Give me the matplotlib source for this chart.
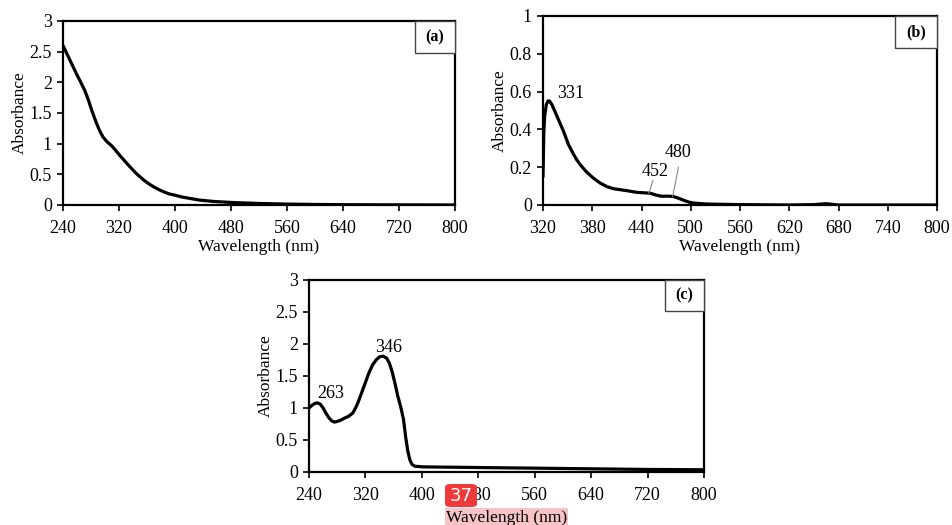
import matplotlib.pyplot as plt
from matplotlib.patches import Rectangle, FancyBboxPatch
from matplotlib.ticker import FuncFormatter

plt.rcParams['font.family'] = ['Liberation Serif', 'DejaVu Serif']

# (a) absorbance spectrum
wl_a = [240, 245, 250, 255, 260, 265, 271, 276, 280, 284, 288, 292, 297, 303, 310, 316, 321, 328, 335, 340, 345, 350,
        355, 362, 369, 377, 385, 392, 400, 410, 420, 435, 455, 483, 520, 560, 600, 640, 700, 800]
abs_a = [2.60, 2.48, 2.36, 2.24, 2.12, 2.01, 1.87, 1.72, 1.58, 1.45, 1.33, 1.22, 1.11, 1.03, 0.96, 0.88, 0.81, 0.72, 0.63,
         0.57, 0.51, 0.46, 0.41, 0.35, 0.30, 0.25, 0.21, 0.18, 0.16, 0.13, 0.11, 0.08, 0.058, 0.04, 0.025, 0.015,
         0.009, 0.005, 0.003, 0.0]

# (b) absorbance spectrum
wl_b = [320, 321, 322, 324, 326, 328, 331, 335, 340, 345, 351, 357, 361, 365, 373, 382, 390, 398, 406, 414, 422, 434,
        445, 451, 458, 465, 472, 479, 485, 492, 498, 504, 520, 560, 620, 650, 665, 680, 720, 800]
abs_b = [0.15, 0.38, 0.47, 0.53, 0.55, 0.55, 0.53, 0.49, 0.44, 0.39, 0.32, 0.27, 0.24, 0.215, 0.175, 0.14, 0.115,
         0.097, 0.086, 0.081, 0.076, 0.067, 0.064, 0.062, 0.052, 0.046, 0.047, 0.045, 0.036, 0.024, 0.015, 0.010,
         0.005, 0.002, 0.0, 0.002, 0.007, 0.0, 0.0, 0.0]

# (c) absorbance spectrum
wl_c = [240, 244, 248, 252, 256, 260, 264, 268, 272, 276, 280, 285, 290, 296, 302, 306, 310, 315, 320, 325, 330, 335,
        340, 345, 350, 354, 358, 362, 366, 370, 374, 377, 380, 383, 386, 390, 396, 402, 480, 560, 640, 720, 800]
abs_c = [1.00, 1.04, 1.07, 1.08, 1.06, 1.00, 0.92, 0.85, 0.80, 0.78, 0.79, 0.81, 0.84, 0.87, 0.92, 1.00, 1.10, 1.25,
         1.40, 1.55, 1.67, 1.75, 1.80, 1.81, 1.78, 1.70, 1.56, 1.38, 1.18, 1.02, 0.82, 0.55, 0.33, 0.19, 0.12, 0.09,
         0.085, 0.08, 0.07, 0.06, 0.05, 0.04, 0.035]

xticks_a = [240, 320, 400, 480, 560, 640, 720, 800]
yticks_a = [0, 0.5, 1, 1.5, 2, 2.5, 3]
xticks_b = [320, 380, 440, 500, 560, 620, 680, 740, 800]
yticks_b = [0, 0.2, 0.4, 0.6, 0.8, 1]

W, H = 952, 525
fig = plt.figure(figsize=(W / 100, H / 100), dpi=100)


def add_panel(left, top, right, bottom):
    return fig.add_axes([left / W, 1 - bottom / H, (right - left) / W, (bottom - top) / H])


def style(ax, x, y, xt, yt, tag, bw, bh):
    ax.plot(x, y, color='black', lw=2.3, solid_capstyle='round', solid_joinstyle='round')
    ax.set_xlim(xt[0], xt[-1])
    ax.set_ylim(yt[0], yt[-1])
    ax.set_xticks(xt)
    ax.set_yticks(yt)
    ax.yaxis.set_major_formatter(FuncFormatter(lambda v, p: '%g' % v))
    for s in ax.spines.values():
        s.set_linewidth(1.6)
    ax.tick_params(direction='out', length=4, width=1.2, labelsize=13, pad=4)
    ax.tick_params(axis='x', pad=7)
    ax.set_xlabel('Wavelength (nm)', fontsize=12.5, labelpad=1)
    ax.set_ylabel('Absorbance', fontsize=12.5, labelpad=1)
    ax.add_patch(Rectangle((1 - bw, 1 - bh), bw, bh, transform=ax.transAxes,
                           facecolor='white', edgecolor='#444444', lw=1.0, clip_on=False, zorder=3))
    ax.text(1 - bw / 2, 1 - bh / 2, tag, transform=ax.transAxes, ha='center', va='center',
            fontsize=11.5, fontweight='bold', zorder=4)


ax_a = add_panel(63, 21, 455, 205)
style(ax_a, wl_a, abs_a, xticks_a, yticks_a, '(a)', 0.102, 0.174)

ax_b = add_panel(543, 16, 937, 205)
style(ax_b, wl_b, abs_b, xticks_b, yticks_b, '(b)', 0.107, 0.17)
ax_b.text(354, 0.59, '331', ha='center', va='center', fontsize=13)
ax_b.text(456, 0.175, '452', ha='center', va='center', fontsize=13)
ax_b.text(485, 0.28, '480', ha='center', va='center', fontsize=13)
ax_b.plot([454, 449], [0.13, 0.062], color='#888888', lw=0.8)
ax_b.plot([485, 478], [0.2, 0.046], color='#888888', lw=0.8)

ax_c = add_panel(309, 280, 704, 472)
style(ax_c, wl_c, abs_c, xticks_a, yticks_a, '(c)', 0.099, 0.16)
ax_c.text(271, 1.23, '263', ha='center', va='center', fontsize=13)
ax_c.text(353, 1.95, '346', ha='center', va='center', fontsize=13)
ax_c.set_xlabel('Wavelength (nm)', fontsize=12.5, labelpad=4,
                bbox=dict(facecolor='#f6c4c4', edgecolor='none', pad=1))

# red badge overlay
fig.patches.append(FancyBboxPatch((445 / W, 1 - 507 / H), 32 / W, 23 / H,
                                  boxstyle='round,pad=0,rounding_size=0.006',
                                  transform=fig.transFigure, facecolor='#f03a3a',
                                  edgecolor='none', zorder=10))
fig.text(461 / W, 1 - 496 / H, '37', ha='center', va='center', color='white',
         fontsize=13, family='DejaVu Sans', zorder=11)

fig.savefig('out.png', dpi=100)
